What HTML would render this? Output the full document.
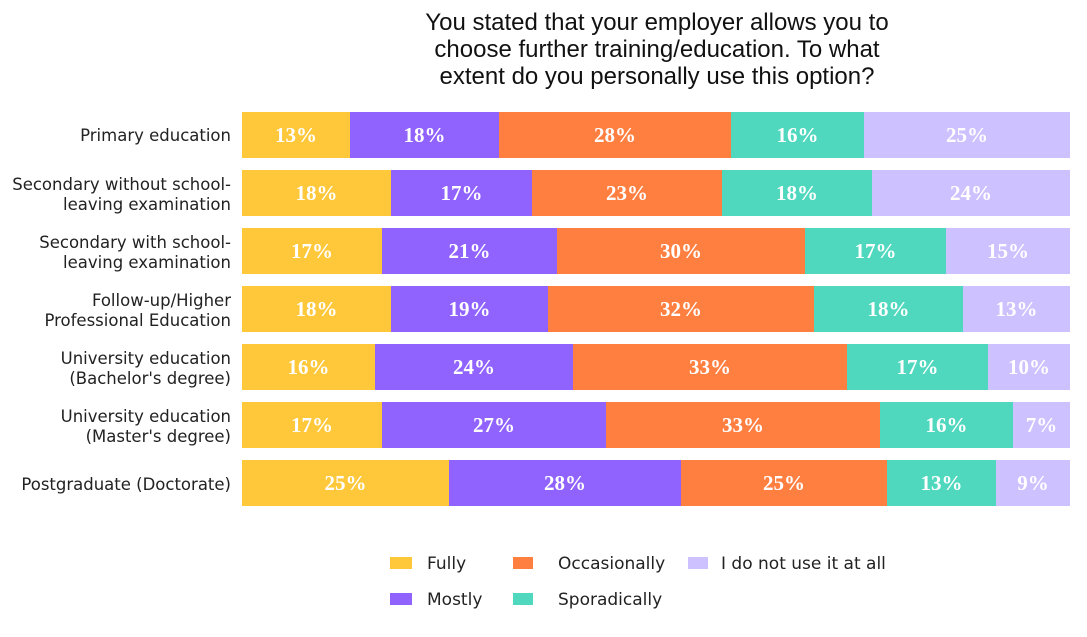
<!DOCTYPE html><html><head><style>body{margin:0;background:#fff}</style></head><body>
<svg width="1087" height="632" xmlns="http://www.w3.org/2000/svg">
<g font-family="Liberation Sans, sans-serif" font-size="24" fill="#111" text-anchor="middle">
<text x="657" y="30">You stated that your employer allows you to</text>
<text x="657" y="57">choose further training/education. To what</text>
<text x="657" y="84">extent do you personally use this option?</text>
</g>
<g id="bars"></g>
<g font-family="DejaVu Sans, sans-serif" font-size="16.5" fill="#222" text-anchor="end">
<text x="231" y="141">Primary education</text>
<text x="231" y="190">Secondary without school-</text><text x="231" y="210">leaving examination</text>
<text x="231" y="248">Secondary with school-</text><text x="231" y="268">leaving examination</text>
<text x="231" y="306">Follow-up/Higher</text><text x="231" y="326">Professional Education</text>
<text x="231" y="364">University education</text><text x="231" y="384">(Bachelor's degree)</text>
<text x="231" y="422">University education</text><text x="231" y="442">(Master's degree)</text>
<text x="231" y="490">Postgraduate (Doctorate)</text>
</g>
<g font-family="DejaVu Sans, sans-serif" font-size="17" fill="#222">
<rect x="390" y="557" width="22" height="12" fill="#FFC83A"/><text x="427" y="569">Fully</text>
<rect x="390" y="593" width="22" height="12" fill="#9063FF"/><text x="427" y="605">Mostly</text>
<rect x="513" y="557" width="20" height="12" fill="#FF7F41"/><text x="558" y="569">Occasionally</text>
<rect x="513" y="593" width="20" height="12" fill="#4FD8BE"/><text x="558" y="605">Sporadically</text>
<rect x="688" y="557" width="20" height="12" fill="#CDC1FF"/><text x="721" y="569">I do not use it at all</text>
</g>
</svg>
<script>
const rows=[[242,350,499,731,864,1070,[13,18,28,16,25]],[242,391,532,722,872,1070,[18,17,23,18,24]],[242,382,557,805,946,1070,[17,21,30,17,15]],[242,391,548,814,963,1070,[18,19,32,18,13]],[242,375,573,847,988,1070,[16,24,33,17,10]],[242,382,606,880,1013,1070,[17,27,33,16,7]],[242,449,681,887,996,1070,[25,28,25,13,9]]];
const cols=["#FFC83A","#9063FF","#FF7F41","#4FD8BE","#CDC1FF"];
let s="";rows.forEach((r,i)=>{const y=112+58*i;for(let k=0;k<5;k++){s+=`<rect x="${r[k]}" y="${y}" width="${r[k+1]-r[k]}" height="46" fill="${cols[k]}"/>`;s+=`<text x="${(r[k]+r[k+1])/2}" y="${y+30}" text-anchor="middle" font-family="Liberation Serif, serif" font-weight="bold" font-size="21" fill="#fff">${r[6][k]}%</text>`;}});
document.getElementById("bars").innerHTML=s;
</script>
</body></html>
